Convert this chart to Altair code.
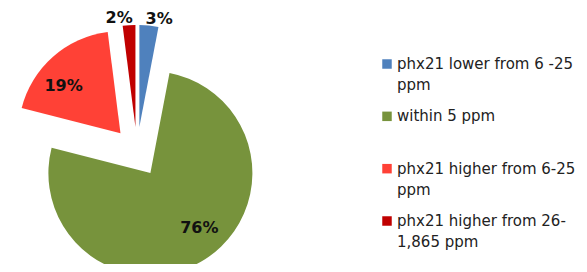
import altair as alt
import pandas as pd

categories = ["phx21 lower from 6 -25 ppm", "within 5 ppm",
              "phx21 higher from 6-25 ppm", "phx21 higher from 26-1,865 ppm"]
legend_labels = ["phx21 lower from 6 -25\nppm", "within 5 ppm",
                 "phx21 higher from 6-25\nppm", "phx21 higher from 26-\n1,865  ppm"]
values = [3, 76, 19, 2]
slice_labels = ["3%", "76%", "19%", "2%"]
colors = ["#4F81BD", "#77933C", "#FF4136", "#C00000"]

CX, CY, R, E = 129, 144, 102, 25

df = pd.DataFrame({
    "idx": list(range(len(categories))),
    "cat": categories,
    "value": values,
    "label": slice_labels,
    "legend": legend_labels,
})

base = alt.Chart(df).transform_joinaggregate(
    total="sum(value)"
).transform_window(
    cum="sum(value)", sort=[alt.SortField("idx")]
).transform_calculate(
    mid="2*PI*(datum.cum - datum.value/2)/datum.total",
).transform_calculate(
    px=f"{CX} + {E}*sin(datum.mid)",
    py=f"{CY} - {E}*cos(datum.mid)",
    lr=f"datum.value < 5 ? {R + E + 8} : {0.72 * R + E}",
    la="datum.value < 5 ? datum.mid + (sin(datum.mid) > 0 ? 0.07 : -0.07) : datum.mid - 0.12",
).transform_calculate(
    lx=f"{CX} + datum.lr*sin(datum.la)",
    ly=f"{CY} - datum.lr*cos(datum.la)",
)

color_scale = alt.Scale(domain=categories, range=colors)

arcs = base.mark_arc(radius=R).encode(
    theta=alt.Theta("value:Q", stack=True),
    order=alt.Order("idx:Q"),
    color=alt.Color("cat:N", scale=color_scale, legend=None),
    x=alt.X("px:Q", scale=None, stack=None),
    y=alt.Y("py:Q", scale=None, stack=None),
)

texts = base.mark_text(font="DejaVu Sans", fontSize=16, fontWeight="bold",
                       color="#111111", align="center", baseline="middle").encode(
    x=alt.X("lx:Q", scale=None, stack=None),
    y=alt.Y("ly:Q", scale=None, stack=None),
    text="label:N",
)

leg_y = alt.Y("idx:O", scale=alt.Scale(type="point", domain=[0, 1, 2, 3],
                                        range=[56, 213], padding=0), axis=None)

leg_sq = alt.Chart(df).mark_square(size=90, opacity=1).encode(
    x=alt.value(379),
    y=leg_y,
    color=alt.Color("cat:N", scale=color_scale, legend=None),
)

leg_txt = alt.Chart(df).mark_text(font="DejaVu Sans", fontSize=15, align="left",
                                  baseline="alphabetic", dy=5, lineBreak="\n",
                                  lineHeight=21, color="#222222").encode(
    x=alt.value(389),
    y=leg_y,
    text="legend:N",
)

chart = alt.layer(arcs, texts, leg_sq, leg_txt).resolve_scale(
    y="independent", x="independent"
).properties(
    width=571, height=256, padding=0,
    autosize=alt.AutoSizeParams(type="none"),
).configure_view(stroke=None)

chart.save("out.html", embed_options={"renderer": "svg", "actions": False})
